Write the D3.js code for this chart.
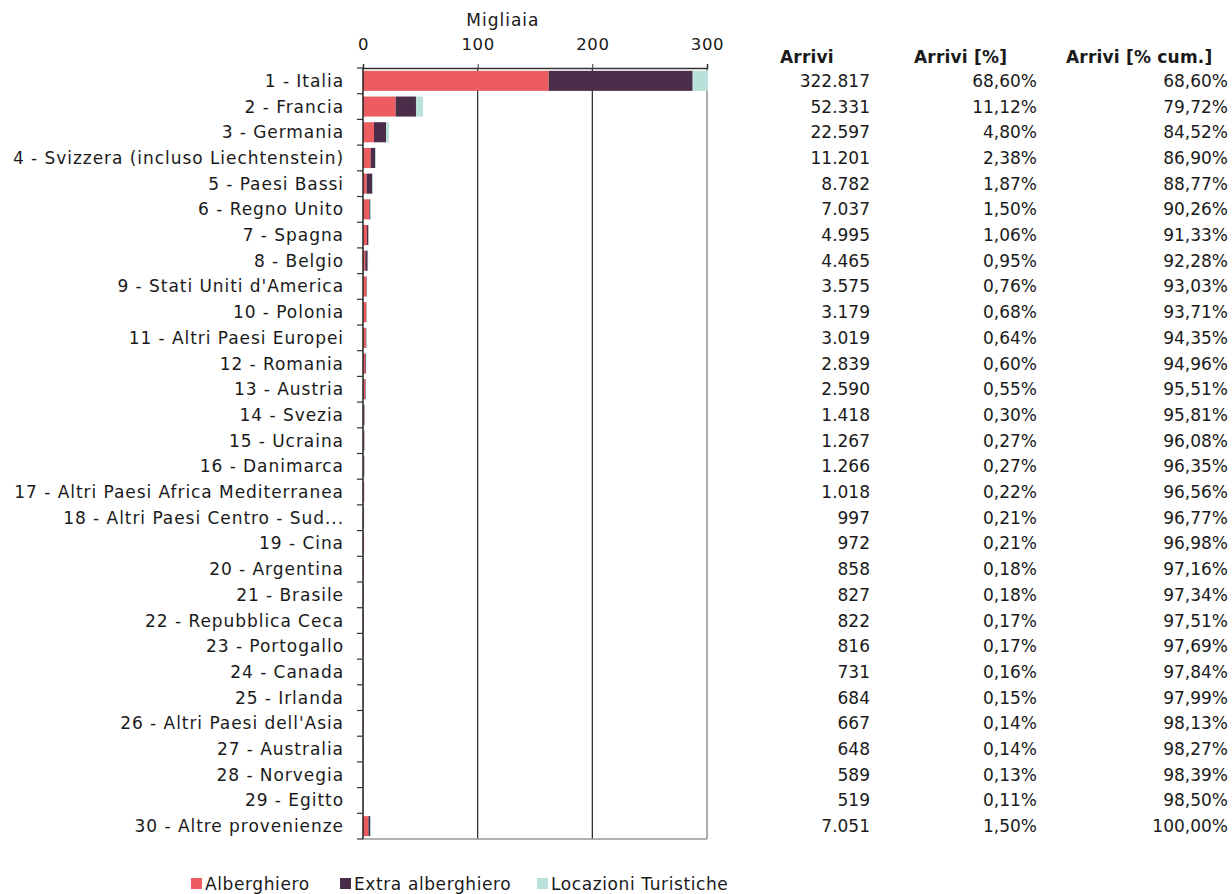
<!DOCTYPE html>
<html>
<head>
<meta charset="utf-8">
<script src="https://cdn.jsdelivr.net/npm/d3@7"></script>
<style>
  body { margin: 0; background: #fff; }
  text { font-family: "DejaVu Sans", sans-serif; fill: #1a1a1a; }
</style>
</head>
<body>
<div id="chart"></div>
<script>
// categories, top to bottom
var countries = ["1 - Italia", "2 - Francia", "3 - Germania", "4 - Svizzera (incluso Liechtenstein)",
  "5 - Paesi Bassi", "6 - Regno Unito", "7 - Spagna", "8 - Belgio", "9 - Stati Uniti d'America",
  "10 - Polonia", "11 - Altri Paesi Europei", "12 - Romania", "13 - Austria", "14 - Svezia",
  "15 - Ucraina", "16 - Danimarca", "17 - Altri Paesi Africa Mediterranea",
  "18 - Altri Paesi Centro - Sud America", "19 - Cina", "20 - Argentina", "21 - Brasile",
  "22 - Repubblica Ceca", "23 - Portogallo", "24 - Canada", "25 - Irlanda",
  "26 - Altri Paesi dell'Asia", "27 - Australia", "28 - Norvegia", "29 - Egitto",
  "30 - Altre provenienze"];

// series values, in thousands
var alberghiero = [162.0, 28.5, 9.6, 6.7, 3.2, 5.5, 3.5, 2.0, 3.0, 2.8, 2.4, 2.0, 1.9, 0.9, 0.9,
  0.7, 0.8, 0.7, 0.8, 0.7, 0.6, 0.6, 0.6, 0.5, 0.5, 0.6, 0.4, 0.4, 0.4, 4.7];
var extraAlberghiero = [125.5, 17.7, 10.5, 4.0, 4.9, 0.9, 1.2, 2.1, 0.4, 0.3, 0.5, 0.6, 0.5, 0.4, 0.3,
  0.4, 0.2, 0.2, 0.1, 0.1, 0.2, 0.2, 0.2, 0.2, 0.1, 0.05, 0.2, 0.15, 0.1, 1.7];
var locazioni = [35.3, 6.1, 2.5, 0.5, 0.7, 0.6, 0.3, 0.37, 0.2, 0.1, 0.1, 0.2, 0.2, 0.1, 0.07,
  0.16, 0.02, 0.1, 0.07, 0.06, 0.03, 0.02, 0.02, 0.03, 0.08, 0.02, 0.05, 0.04, 0.02, 0.65];

// table columns
var arrivi = ["322.817", "52.331", "22.597", "11.201", "8.782", "7.037", "4.995", "4.465", "3.575",
  "3.179", "3.019", "2.839", "2.590", "1.418", "1.267", "1.266", "1.018", "997", "972", "858",
  "827", "822", "816", "731", "684", "667", "648", "589", "519", "7.051"];
var arriviPct = ["68,60%", "11,12%", "4,80%", "2,38%", "1,87%", "1,50%", "1,06%", "0,95%", "0,76%",
  "0,68%", "0,64%", "0,60%", "0,55%", "0,30%", "0,27%", "0,27%", "0,22%", "0,21%", "0,21%",
  "0,18%", "0,18%", "0,17%", "0,17%", "0,16%", "0,15%", "0,14%", "0,14%", "0,13%", "0,11%", "1,50%"];
var arriviCum = ["68,60%", "79,72%", "84,52%", "86,90%", "88,77%", "90,26%", "91,33%", "92,28%",
  "93,03%", "93,71%", "94,35%", "94,96%", "95,51%", "95,81%", "96,08%", "96,35%", "96,56%",
  "96,77%", "96,98%", "97,16%", "97,34%", "97,51%", "97,69%", "97,84%", "97,99%", "98,13%",
  "98,27%", "98,39%", "98,50%", "100,00%"];

var xTicks = [0, 100, 200, 300];
var seriesNames = ["Alberghiero", "Extra alberghiero", "Locazioni Turistiche"];
var colors = ["#ec5c60", "#4a2d48", "#b9e1da"];

var W = 1232, H = 894;
var margin = {top: 68, left: 363};
var width = 344, height = 771;

var data = countries.map(function(c, i){
    return {name: c, a: alberghiero[i], e: extraAlberghiero[i], l: locazioni[i]};
});

var svgRoot = d3.select("#chart").append("svg")
    .attr("width", W).attr("height", H);

var svg = svgRoot.append("g")
    .attr("transform", "translate(" + margin.left + "," + margin.top + ")");

var x = d3.scaleLinear().domain([0, 300]).range([0, width]);
var y = d3.scaleBand().domain(countries).range([0, height]).paddingInner(0.22).paddingOuter(0.11);

svgRoot.append("defs").append("clipPath").attr("id", "plotclip")
    .append("rect").attr("x", 0).attr("y", 0).attr("width", width + 1).attr("height", height);

// vertical grid lines
svg.append("g").attr("class", "grid")
    .selectAll("line").data(xTicks.slice(1)).enter().append("line")
    .attr("x1", function(d){ return x(d); }).attr("x2", function(d){ return x(d); })
    .attr("y1", 0).attr("y2", height)
    .attr("stroke", function(d){ return d == 300 ? "#777" : "#222"; })
    .attr("stroke-width", 1.2);

// stacked bars
var stack = d3.stack().keys(["a", "e", "l"]);
var layers = stack(data);

svg.append("g").attr("clip-path", "url(#plotclip)")
    .selectAll("g").data(layers).enter().append("g")
    .attr("fill", function(d, i){ return colors[i]; })
    .selectAll("rect").data(function(d){ return d; }).enter().append("rect")
    .attr("x", function(d){ return x(d[0]); })
    .attr("width", function(d){ return x(d[1]) - x(d[0]); })
    .attr("y", function(d){ return y(d.data.name); })
    .attr("height", y.bandwidth());

// top axis
var topAxis = svg.append("g")
    .call(d3.axisTop(x).tickValues(xTicks).tickSize(4).tickPadding(14));
topAxis.select(".domain").attr("stroke", "#333").attr("stroke-width", 1.5);
topAxis.selectAll(".tick line").attr("stroke", "#333");
topAxis.selectAll("text").style("font-size", "16.5px").style("letter-spacing", "0.6px").attr("fill", "#1a1a1a");

svg.append("text")
    .attr("x", x(122)).attr("y", -42)
    .attr("text-anchor", "middle")
    .style("font-size", "17px").style("letter-spacing", "1px")
    .text("Migliaia");

// bottom line
svg.append("line")
    .attr("x1", 0).attr("x2", width)
    .attr("y1", height).attr("y2", height)
    .attr("stroke", "#999").attr("stroke-width", 1.5);

// left axis with ticks at band boundaries
var step = y.step();
var y0 = y(countries[0]) - (y.step() - y.bandwidth()) / 2;
var boundaries = d3.range(countries.length + 1).map(function(i){ return Math.min(height, Math.max(0, y0 + i * step)); });
svg.append("line")
    .attr("x1", 0).attr("x2", 0).attr("y1", 0).attr("y2", height)
    .attr("stroke", "#222").attr("stroke-width", 1.5);
svg.append("g").selectAll("line").data(boundaries).enter().append("line")
    .attr("x1", -6).attr("x2", 0)
    .attr("y1", function(d){ return d; }).attr("y2", function(d){ return d; })
    .attr("stroke", "#333").attr("stroke-width", 1.2);

// category labels
svg.append("g").selectAll("text").data(countries).enter().append("text")
    .attr("x", -19)
    .attr("y", function(d){ return y(d) + y.bandwidth() / 2; })
    .attr("dy", "0.35em")
    .attr("text-anchor", "end")
    .style("font-size", "17px").style("letter-spacing", "0.95px")
    .text(function(d){ return d == "18 - Altri Paesi Centro - Sud America" ? "18 - Altri Paesi Centro - Sud..." : d; });

// table
var cols = [
  {title: "Arrivi", hx: 780, vx: 870, values: arrivi},
  {title: "Arrivi [%]", hx: 914, vx: 1037, values: arriviPct},
  {title: "Arrivi [% cum.]", hx: 1066, vx: 1228, values: arriviCum}
];
cols.forEach(function(c){
    svgRoot.append("text")
        .attr("x", c.hx).attr("y", 63)
        .style("font-size", "17px").style("font-weight", "bold").style("letter-spacing", "0.2px")
        .text(c.title);
    svgRoot.append("g").selectAll("text").data(c.values).enter().append("text")
        .attr("x", c.vx)
        .attr("y", function(d, i){ return margin.top + y(countries[i]) + y.bandwidth() / 2; })
        .attr("dy", "0.35em")
        .attr("text-anchor", "end")
        .style("font-size", "17px")
        .text(function(d){ return d; });
});

// legend
var legendX = [191, 340, 537];
var legend = svgRoot.append("g").attr("transform", "translate(0,884)");
seriesNames.forEach(function(s, i){
    legend.append("rect")
        .attr("x", legendX[i]).attr("y", -6).attr("width", 11).attr("height", 11)
        .attr("fill", colors[i]);
    legend.append("text")
        .attr("x", legendX[i] + 14).attr("y", 0).attr("dy", "0.35em")
        .style("font-size", "17px").style("letter-spacing", "0.6px")
        .text(s);
});
</script>
</body>
</html>
